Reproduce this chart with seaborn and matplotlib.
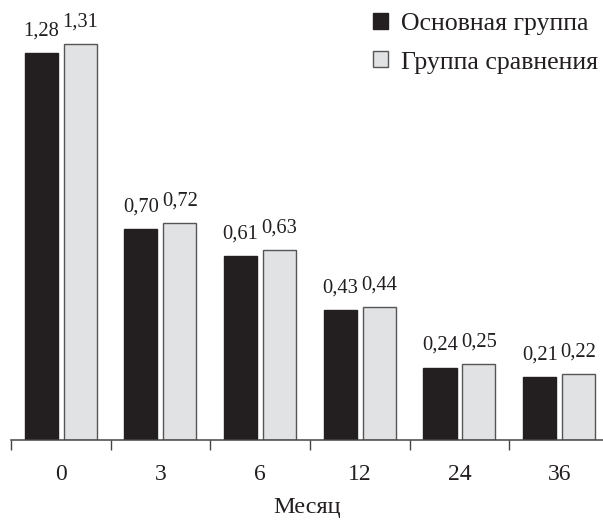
import seaborn as sns
import matplotlib.pyplot as plt
import pandas as pd
import numpy as np

months = ["0", "3", "6", "12", "24", "36"]
main_group = [1.28, 0.70, 0.61, 0.43, 0.24, 0.21]
compare_group = [1.31, 0.72, 0.63, 0.44, 0.25, 0.22]
groups = ["Основная группа", "Группа сравнения"]

df = pd.DataFrame({
    "month": months * 2,
    "value": main_group + compare_group,
    "group": [groups[0]] * len(months) + [groups[1]] * len(months),
})

sns.set_style("white")
plt.rcParams["font.family"] = ["Liberation Serif", "DejaVu Serif"]

fig = plt.figure(figsize=(6.03, 5.28), dpi=100)
ax = fig.add_axes([0.018, 0.1667, 0.982, 0.8333])

palette = {groups[0]: "#231f20", groups[1]: "#e1e2e4"}
sns.barplot(data=df, x="month", y="value", hue="group", order=months,
            hue_order=groups, palette=palette, width=0.78, gap=0.15,
            saturation=1, ax=ax)

# edges: dark bars black, light bars grey
for cont, ec in zip(ax.containers, ["#231f20", "#555555"]):
    for bar in cont:
        bar.set_edgecolor(ec)
        bar.set_linewidth(1.0)
    ax.bar_label(cont, labels=[f"{v:.2f}".replace(".", ",") for v in cont.datavalues],
                 padding=9, fontsize=14.8, color="#231f20")

ax.set_ylim(0, 1.457)
ax.set_xlim(-0.5, 5.44)
ax.set_yticks([])
ax.set_ylabel("")
ax.set_xlabel("Месяц", fontsize=17.5, color="#231f20", labelpad=9)

for s in ["top", "left", "right"]:
    ax.spines[s].set_visible(False)
ax.spines["bottom"].set_color("#444444")
ax.spines["bottom"].set_linewidth(1.1)

ax.set_xticks(np.arange(-0.5, 5.0, 1.0), minor=True)
ax.tick_params(axis="x", which="major", length=0, labelsize=17, pad=17,
               labelcolor="#231f20")
ax.tick_params(axis="x", which="minor", length=7, width=1.0, color="#444444",
               direction="out", bottom=True)

leg = ax.legend(loc="upper right", bbox_to_anchor=(1.017, 1.006), frameon=False,
                fontsize=18.6, handlelength=0.57, handleheight=0.57,
                handletextpad=0.5, labelspacing=0.64, borderaxespad=0.2)
leg.legend_handles[0].set_edgecolor("#231f20")
leg.legend_handles[1].set_edgecolor("#555555")
for t in leg.get_texts():
    t.set_color("#231f20")

fig.savefig("out.png", dpi=100)
